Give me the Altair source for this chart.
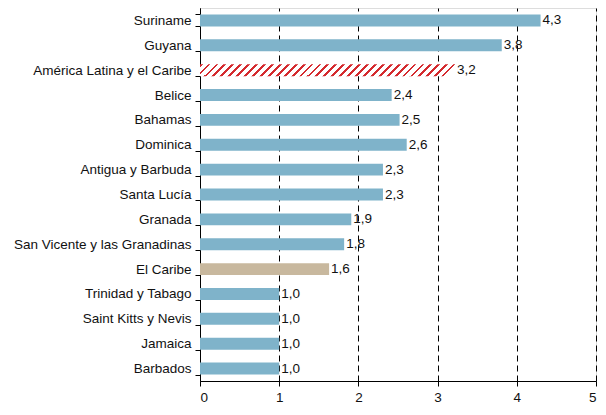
import altair as alt
import pandas as pd

paises = ["Suriname", "Guyana", "América Latina y el Caribe", "Belice", "Bahamas",
          "Dominica", "Antigua y Barbuda", "Santa Lucía", "Granada",
          "San Vicente y las Granadinas", "El Caribe", "Trinidad y Tabago",
          "Saint Kitts y Nevis", "Jamaica", "Barbados"]
valores = [4.3, 3.81, 3.22, 2.42, 2.52, 2.61, 2.31, 2.31, 1.91, 1.82, 1.63, 1.0, 1.0, 1.0, 1.0]
etiquetas = [4.3, 3.8, 3.2, 2.4, 2.5, 2.6, 2.3, 2.3, 1.9, 1.8, 1.6, 1.0, 1.0, 1.0, 1.0]
tipo = ["pais", "pais", "alc", "pais", "pais", "pais", "pais", "pais", "pais",
        "pais", "caribe", "pais", "pais", "pais", "pais"]

df = pd.DataFrame({"pais": paises, "valor": valores, "etiqueta": etiquetas, "tipo": tipo})

FONT = "Liberation Sans"
FS = 13.5
BLUE = "#7fb3ca"
TAN = "#c8b89e"
RED = "#d42a2e"

# hatch pattern for the regional aggregate (diagonal red stripes via a hard-stop gradient)
period = 0.031
red_frac = 0.36
stops = []
k = 0
while k * period < 1.05:
    a = k * period
    stops += [{"offset": min(a, 1.0), "color": RED},
              {"offset": min(a + red_frac * period, 1.0), "color": RED},
              {"offset": min(a + red_frac * period, 1.0), "color": "#ffffff"},
              {"offset": min(a + period, 1.0), "color": "#ffffff"}]
    k += 1
hatch = {"gradient": "linear", "x1": 0, "y1": 0, "x2": 1, "y2": 0.047, "stops": stops}

y_enc = alt.Y("pais:N", sort=paises, title=None,
              scale=alt.Scale(paddingInner=0.52, paddingOuter=0.26),
              axis=alt.Axis(tickBand="extent", tickSize=5, labelPadding=4,
                            labelFont=FONT, labelFontSize=FS, labelColor="#111",
                            domainColor="#000", tickColor="#000", grid=False))
x_enc = alt.X("valor:Q", title=None,
              scale=alt.Scale(domain=[0, 5], nice=False),
              axis=alt.Axis(values=[0, 1, 2, 3, 4, 5], format="d", grid=True,
                            gridDash=[6, 4], gridColor="#000", gridWidth=1,
                            tickSize=5, labelPadding=4, labelFont=FONT,
                            labelFontSize=FS, labelColor="#111",
                            domainColor="#000", tickColor="#000"))

base = alt.Chart(df)

bars = base.transform_filter("datum.tipo != 'alc'").mark_bar().encode(
    x=x_enc, y=y_enc,
    color=alt.Color("tipo:N", scale=alt.Scale(domain=["pais", "caribe"], range=[BLUE, TAN]),
                    legend=None))

alc = base.transform_filter("datum.tipo == 'alc'").mark_bar(fill=hatch).encode(
    x=alt.X("valor:Q"), y=alt.Y("pais:N", sort=paises))

labels = base.transform_calculate(
    lab="replace(format(datum.etiqueta, '.1f'), '.', ',')"
).mark_text(align="left", baseline="middle", dx=2, font=FONT, fontSize=FS,
            color="#111").encode(
    x=alt.X("valor:Q"), y=alt.Y("pais:N", sort=paises), text="lab:N")

chart = alt.layer(bars, alc, labels).properties(
    width=396, height=373,
    autosize=alt.AutoSizeParams(type="none"),
    padding={"left": 192, "top": 0, "right": 2, "bottom": 26}
).configure_view(stroke=None).configure(background="#ffffff")

chart.save("out.html", embed_options={"renderer": "svg", "actions": False})
